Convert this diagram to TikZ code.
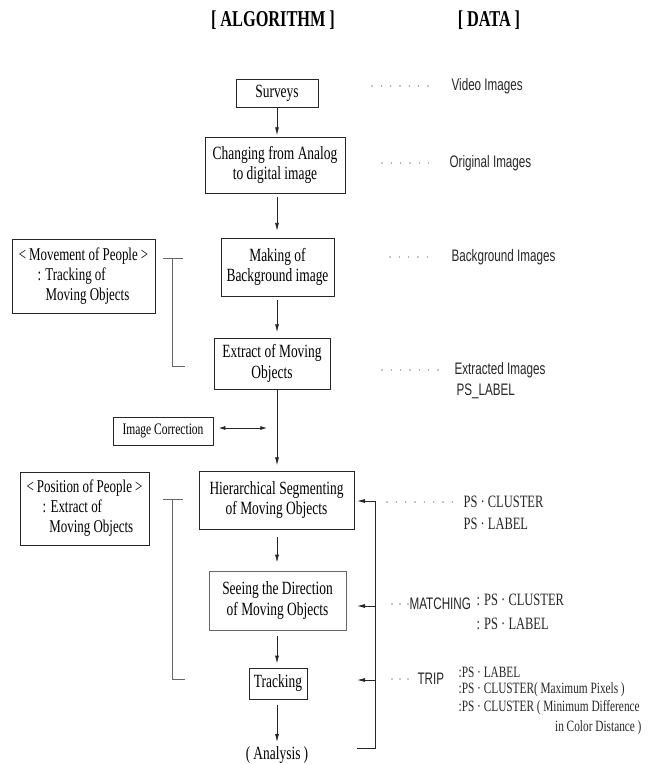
\documentclass[tikz,border=0pt]{standalone}
\usepackage{fontspec}
\setmainfont{Liberation Serif}
\newfontfamily\boxfont[FakeStretch=0.72]{Liberation Serif}
\newfontfamily\datafont[FakeStretch=0.7]{Liberation Sans}
\usetikzlibrary{arrows.meta}

\begin{document}
\begin{tikzpicture}[
    x=0.75pt, y=-0.75pt,
    procbox/.style={
        rectangle,
        draw=black!85,
        line width=0.6pt,
        inner sep=0pt,
        align=center,
        font=\boxfont\fontsize{14}{15.5}\selectfont
    },
    sidebox/.style={procbox, align=left, font=\boxfont\fontsize{13.5}{15}\selectfont},
    titletext/.style={font=\boxfont\bfseries\fontsize{17}{20}\selectfont},
    datasans/.style={inner sep=1pt, font=\datafont\fontsize{12.5}{14}\selectfont, text=black!85},
    dataserif/.style={inner sep=1pt, font=\boxfont\fontsize{13}{14}\selectfont, text=black!85},
    tripline/.style={dataserif, font=\boxfont\fontsize{11.8}{13}\selectfont},
    flow/.style={-{Latex[length=6pt,width=3pt]}, line width=0.6pt, draw=black!85},
    both/.style={{Latex[length=5pt,width=3pt]}-{Latex[length=5pt,width=3pt]}, line width=0.6pt, draw=black!85},
    leader/.style={draw=black!45, line width=1.2pt, line cap=round, dash pattern=on 0pt off 7pt},
    brack/.style={draw=black!60, line width=0.6pt}
]
    \useasboundingbox (0,0) rectangle (656,764);

    % Titoli
    \node[titletext] (alg) at (273,20) {[\,ALGORITHM\,]};
    \node[titletext] (dat) at (489,20) {[\,DATA\,]};

    % Colonna algoritmo
    \coordinate (col) at (277,0);
    \node[procbox, minimum width=61.5pt, minimum height=21pt] (surveys) at (277,93) {Surveys};
    \node[procbox, minimum width=105pt, minimum height=42pt] (changing) at (275,165)
         {Changing from Analog\\to digital image};
    \node[procbox, minimum width=84.75pt, minimum height=43.5pt] (making) at (277.5,267)
         {Making of\\Background image};
    \node[procbox, minimum width=87pt, minimum height=38.25pt] (extract) at (272,363.5)
         {Extract of Moving\\Objects};
    \node[procbox, font=\boxfont\fontsize{12}{14}\selectfont, minimum width=75pt, minimum height=21pt]
         (imgcorr) at (163,431) {Image Correction};
    \node[procbox, minimum width=116.25pt, minimum height=43.5pt] (hier) at (276.5,500)
         {Hierarchical Segmenting\\of Moving Objects};
    \node[procbox, draw=black!60, minimum width=102.75pt, minimum height=44.25pt] (seeing) at (277.5,600.5)
         {Seeing the Direction\\of Moving Objects};
    \node[procbox, minimum width=43.5pt, minimum height=23.25pt] (tracking) at (278,683.5) {Tracking};
    \node[procbox, draw=none] (analysis) at (277,755) {(\,Analysis\,)};

    % Riquadri a sinistra
    \node[sidebox, minimum width=107.25pt, minimum height=55.5pt] (movement) at (83.5,276)
         {<\,Movement of People\,>\\\hspace*{14pt}: Tracking of\\\hspace*{20pt}Moving Objects};
    \node[sidebox, minimum width=96.75pt, minimum height=54.75pt] (position) at (84.5,508.5)
         {<\,Position of People\,>\\\hspace*{12pt}: Extract of\\\hspace*{17pt}Moving Objects};

    % Frecce principali
    \draw[flow, shorten >=1pt] (surveys.south -| col) -- (changing.north -| col);
    \draw[flow, shorten <=3pt, shorten >=5pt] (changing.south -| col) -- (making.north -| col);
    \draw[flow, shorten <=3pt, shorten >=4pt] (making.south -| col) -- (extract.north -| col);
    \draw[flow, shorten >=4pt] (extract.south -| col) -- (hier.north -| col);
    \draw[flow, shorten <=6pt, shorten >=6pt] (hier.south -| col) -- (seeing.north -| col);
    \draw[flow, shorten <=4pt, shorten >=3pt] (seeing.south -| col) -- (tracking.north -| col);
    \draw[flow, shorten <=4pt, shorten >=3pt] (tracking.south -| col) -- (analysis.north -| col);

    % Correzione immagine
    \coordinate (corrend) at (267,428);
    \draw[both, shorten <=4pt] (imgcorr.east |- corrend) -- (corrend);

    % Parentesi a sinistra
    \coordinate (lb1t) at (172,258);
    \coordinate (lb1b) at (172,366);
    \draw[brack] ([xshift=-6.75pt]lb1t) -- ([xshift=8.25pt]lb1t);
    \draw[brack] (lb1t) -- (lb1b) -- ([xshift=9.75pt]lb1b);
    \coordinate (lb2t) at (172,499);
    \coordinate (lb2b) at (172,679);
    \draw[brack] ([xshift=-6.75pt]lb2t) -- ([xshift=8.25pt]lb2t);
    \draw[brack] (lb2t) -- (lb2b) -- ([xshift=9.75pt]lb2b);

    % Parentesi a destra
    \coordinate (rb1) at (375,501);
    \coordinate (rb2) at (375,606);
    \coordinate (rb3) at (375,680);
    \coordinate (rb4) at (375,748);
    \coordinate (rt1) at (357,501);
    \coordinate (rt2) at (357,606);
    \coordinate (rt3) at (357,680);
    \coordinate (rt4) at (357,748);
    \draw[brack, draw=black!85] (rb1) -- (rb4) -- (rt4);
    \draw[flow] (rb1) -- (rt1);
    \draw[flow] (rb2) -- (rt2);
    \draw[flow] (rb3) -- (rt3);

    % Dati
    \node[datasans, anchor=west] (video) at (450,86) {Video Images};
    \node[datasans, anchor=west] (orig) at (448,163) {Original Images};
    \node[datasans, anchor=west] (back) at (450,257) {Background Images};
    \node[datasans, anchor=west] (extr) at (453,370) {Extracted Images};
    \node[datasans, anchor=west] (pslabel) at (455,391) {PS\_LABEL};
    \node[dataserif, anchor=west] (hclus) at (462,502) {PS · CLUSTER};
    \node[dataserif, anchor=west] (hlab) at (462,524) {PS · LABEL};
    \node[datasans, anchor=west] (match) at (408,604) {MATCHING};
    \node[dataserif, anchor=west] (mclus) at (475,600) {: PS · CLUSTER};
    \node[dataserif, anchor=west] (mlab) at (475,624) {: PS · LABEL};
    \node[datasans, anchor=west] (trip) at (416,679) {TRIP};
    \node[tripline, anchor=west] (tlab) at (457,672) {:PS · LABEL};
    \node[tripline, anchor=west] (tmax) at (457,690) {:PS · CLUSTER(\,Maximum Pixels\,)};
    \node[tripline, anchor=west] (tmin) at (457,708) {:PS · CLUSTER (\,Minimum Difference};
    \node[tripline, anchor=east] (tcol) at (643,728) {in Color Distance\,)};

    % Puntini
    \coordinate (d1) at (372,86);
    \coordinate (d2) at (382,163);
    \coordinate (d3) at (390,257);
    \coordinate (d4) at (382,370);
    \coordinate (d5) at (387,502);
    \coordinate (d6) at (392,604);
    \coordinate (d7) at (392,679);
    \draw[leader, shorten >=10pt] (d1) -- (video.west);
    \draw[leader, shorten >=14pt] (d2) -- (orig.west);
    \draw[leader, shorten >=10pt] (d3) -- (back.west);
    \draw[leader, shorten >=6pt] (d4) -- (extr.west);
    \draw[leader, shorten >=7pt] (d5) -- (hclus.west);
    \draw[leader, dash pattern=on 0pt off 6pt] (d6) -- (match.west);
    \draw[leader, dash pattern=on 0pt off 6pt] (d7) -- (trip.west);
\end{tikzpicture}
\end{document}
